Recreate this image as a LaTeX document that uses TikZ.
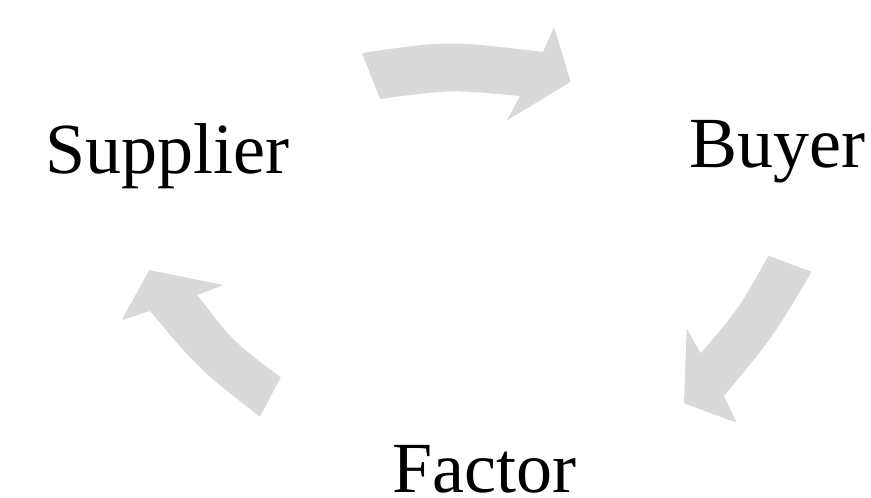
\documentclass[tikz,border=0pt]{standalone}
\usepackage{fontspec}
\setmainfont{Liberation Serif}
\definecolor{arrowgray}{HTML}{D9D9D9}
\tikzset{
  label/.style={inner sep=0pt, font=\fontsize{72}{80}\selectfont, text=black},
  bentarrow/.style={fill=arrowgray, draw=none}
}
\begin{document}
\begin{tikzpicture}[x=1pt,y=-1pt]
\useasboundingbox (0,0) rectangle (871,498);

% party labels
\node[label, anchor=base west] (supplier) at (45,173.3) {Supplier};
\node[label, anchor=base west] (buyer) at (689,167.3) {Buyer};
\node[label, anchor=base west] (factor) at (392,492.7) {Factor};

% Supplier -> Buyer
\fill[bentarrow] (362,53) .. controls (448,40.5) .. (543,52)
  -- (554,27) -- (570.7,81.7) -- (506.7,120.7) -- (520,96)
  .. controls (450,89.5) .. (380,99) -- cycle;

% Buyer -> Factor
\fill[bentarrow] (811.7,271.7) .. controls (772.7,337.3) .. (724,396)
  -- (736.7,422.7) -- (684,403.3) -- (686.7,328.3) -- (700.7,353.3)
  .. controls (739.4,307.9) .. (768.3,255.7) -- cycle;

% Factor -> Supplier
\fill[bentarrow] (260,416.7) .. controls (199.5,369.8) .. (150,311)
  -- (121.7,320) -- (149.3,270) -- (223.3,285) -- (197.3,295)
  .. controls (233.5,342) .. (280.7,377.3) -- cycle;
\end{tikzpicture}
\end{document}
